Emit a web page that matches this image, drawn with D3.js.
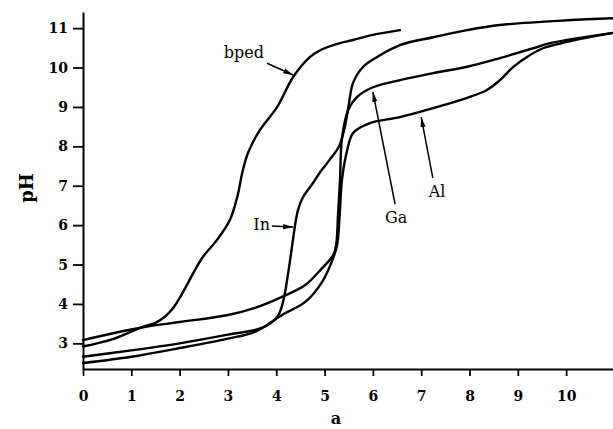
<!DOCTYPE html>
<html>
<head>
<meta charset="utf-8">
<script src="https://cdn.jsdelivr.net/npm/d3@7"></script>
<style>
  html, body { margin: 0; padding: 0; background: #fff; }
  svg { display: block; }
</style>
</head>
<body>
<svg id="chart" width="613" height="429"></svg>
<script>
// ---- data (a = equivalents of base added, pH) ----
const xTicks = [0, 1, 2, 3, 4, 5, 6, 7, 8, 9, 10];
const yTicks = [3, 4, 5, 6, 7, 8, 9, 10, 11];

const bpedA  = [0, 0.6, 1.24, 1.5, 1.7, 1.87, 2.0, 2.15, 2.3, 2.48, 2.77, 3.04, 3.2, 3.3, 3.42, 3.66, 4.02, 4.35, 4.70, 4.91, 5.26, 5.59, 6.0, 6.56];
const bpedPH = [2.92, 3.1, 3.42, 3.52, 3.68, 3.9, 4.15, 4.48, 4.82, 5.19, 5.62, 6.13, 6.75, 7.35, 7.85, 8.41, 9.0, 9.76, 10.27, 10.44, 10.6, 10.7, 10.83, 10.95];

const inA  = [0, 1, 2, 3, 3.7, 4.02, 4.14, 4.24, 4.32, 4.39, 4.45, 4.55, 4.75, 4.91, 5.1, 5.3, 5.42, 5.5, 5.59, 5.8, 6.09, 6.56, 7.25, 7.95, 8.63, 10.02, 10.97];
const inPH = [2.66, 2.82, 3.0, 3.22, 3.39, 3.67, 4.05, 4.73, 5.4, 6.0, 6.38, 6.7, 7.05, 7.35, 7.65, 8.0, 8.5, 9.05, 9.61, 10.02, 10.27, 10.57, 10.77, 10.95, 11.08, 11.2, 11.25];

const gaA  = [0, 0.6, 1.3, 2.0, 3.0, 3.56, 4.12, 4.6, 4.95, 5.18, 5.24, 5.28, 5.32, 5.36, 5.49, 5.67, 6.0, 6.56, 7.25, 7.95, 8.63, 9.32, 9.67, 10.97];
const gaPH = [3.08, 3.25, 3.42, 3.54, 3.72, 3.9, 4.18, 4.48, 4.91, 5.24, 5.5, 6.3, 7.15, 8.2, 8.92, 9.25, 9.5, 9.68, 9.86, 10.02, 10.24, 10.49, 10.62, 10.88];

const alA  = [0, 1, 2, 3, 3.56, 4.12, 4.6, 4.95, 5.18, 5.26, 5.31, 5.36, 5.47, 5.59, 5.94, 6.56, 7.25, 7.95, 8.36, 8.63, 8.9, 9.19, 9.52, 10.02, 10.97];
const alPH = [2.50, 2.66, 2.88, 3.12, 3.29, 3.72, 4.05, 4.56, 5.17, 5.5, 6.2, 7.15, 7.91, 8.34, 8.59, 8.74, 8.97, 9.23, 9.43, 9.68, 10.01, 10.27, 10.49, 10.65, 10.88];

const seriesNames = ["bped", "In", "Ga", "Al"];

// annotation labels (data coords): text position, arrow tail, arrow tip
const labelText = ["bped", "In", "Ga", "Al"];
const labelAnchor = ["middle", "end", "middle", "middle"];
const labelPos  = [[3.33, 10.24], [3.87, 5.87], [6.48, 6.05], [7.33, 6.72]];
const arrowFrom = [[3.81, 10.11], [3.91, 5.98], [6.46, 6.53], [7.24, 7.2]];
const arrowTo   = [[4.35, 9.81], [4.35, 5.95], [6.0, 9.38], [7.0, 8.74]];

// ---- drawing ----
const svg = d3.select("#chart");
const x = d3.scaleLinear().domain([0, 10.97]).range([83, 613]);
const y = d3.scaleLinear().domain([2.348, 11.41]).range([369, 12]);

const defs = svg.append("defs");
defs.append("marker")
  .attr("id", "arr")
  .attr("markerUnits", "userSpaceOnUse")
  .attr("viewBox", "0 -4 10 8")
  .attr("refX", 10).attr("refY", 0)
  .attr("markerWidth", 10).attr("markerHeight", 8)
  .attr("orient", "auto")
  .append("path").attr("d", "M0,-2.6L10,0L0,2.6Z").attr("fill", "#000");

const zip = (xs, ys) => xs.map((v, i) => [v, ys[i]]);
const series = [zip(bpedA, bpedPH), zip(inA, inPH), zip(gaA, gaPH), zip(alA, alPH)];

const line = d3.line()
  .x(d => x(d[0])).y(d => y(d[1]))
  .curve(d3.curveCatmullRom.alpha(0.5));

svg.append("g").selectAll("path")
  .data(series)
  .join("path")
  .attr("d", line)
  .attr("fill", "none")
  .attr("stroke", "#000")
  .attr("stroke-width", 2.4)
  .attr("stroke-linejoin", "round")
  .attr("stroke-linecap", "round");

// axes
const xAxis = svg.append("g")
  .attr("transform", `translate(0,${y.range()[0]})`)
  .call(d3.axisBottom(x).tickValues(xTicks).tickSize(7).tickSizeOuter(0).tickPadding(15).tickFormat(d3.format("d")));
const yAxis = svg.append("g")
  .attr("transform", `translate(${x.range()[0]},0)`)
  .call(d3.axisLeft(y).tickValues(yTicks).tickSize(10).tickSizeOuter(0).tickPadding(5).tickFormat(d3.format("d")));

[xAxis, yAxis].forEach(g => {
  g.select(".domain").attr("stroke", "#000").attr("stroke-width", 2);
  g.selectAll(".tick line").attr("stroke", "#000").attr("stroke-width", 1.8);
  g.selectAll(".tick text")
    .attr("fill", "#000")
    .style("font-family", "'DejaVu Serif', serif")
    .style("font-weight", "bold")
    .style("font-size", "14px");
});
xAxis.selectAll(".tick text").attr("dy", "0.71em");

// axis titles
svg.append("text")
  .attr("x", 336).attr("y", 424)
  .attr("text-anchor", "middle")
  .style("font-family", "'DejaVu Serif', serif")
  .style("font-weight", "bold")
  .style("font-size", "16px")
  .text("a");
svg.append("text")
  .attr("transform", "translate(33,188) rotate(-90)")
  .attr("text-anchor", "middle")
  .style("font-family", "'DejaVu Serif', serif")
  .style("font-weight", "bold")
  .style("font-size", "18px")
  .text("pH");

// annotations
const ann = svg.append("g");
labelText.forEach((t, i) => {
  ann.append("text")
    .attr("x", x(labelPos[i][0])).attr("y", y(labelPos[i][1]))
    .attr("text-anchor", labelAnchor[i])
    .style("font-family", "'DejaVu Serif', serif")
    .style("font-size", "16px")
    .text(t);
  ann.append("line")
    .attr("x1", x(arrowFrom[i][0])).attr("y1", y(arrowFrom[i][1]))
    .attr("x2", x(arrowTo[i][0])).attr("y2", y(arrowTo[i][1]))
    .attr("stroke", "#000").attr("stroke-width", 1.5)
    .attr("marker-end", "url(#arr)");
});
</script>
</body>
</html>
